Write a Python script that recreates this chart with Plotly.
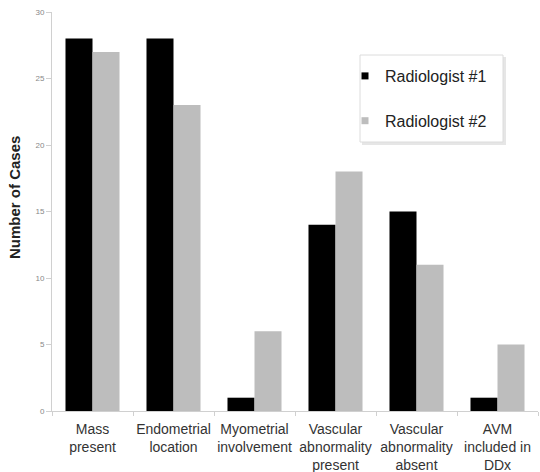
import plotly.graph_objects as go

categories = ["Mass<br>present", "Endometrial<br>location", "Myometrial<br>involvement",
              "Vascular<br>abnormality<br>present", "Vascular<br>abnormality<br>absent",
              "AVM<br>included in<br>DDx"]
radiologist1 = [28, 28, 1, 14, 15, 1]
radiologist2 = [27, 23, 6, 18, 11, 5]
y_ticks = [0, 5, 10, 15, 20, 25, 30]
series_names = ["Radiologist #1", "Radiologist #2"]
series_colors = ["#000000", "#bdbdbd"]

fig = go.Figure()
for vals, name, col in zip([radiologist1, radiologist2], series_names, series_colors):
    fig.add_trace(go.Bar(x=categories, y=vals, name=name, showlegend=False,
                         marker=dict(color=col, line=dict(width=0))))
# legend entries with small square symbols
for name, col in zip(series_names, series_colors):
    fig.add_trace(go.Scatter(x=[None], y=[None], mode="markers", name=name,
                             legendgroup=name,
                             marker=dict(symbol="square", size=7, color=col)))

L, T = 52, 12
PW, PH = 486, 399
def px_x(x):
    return (x - L) / PW
def px_y(y):
    return (T + PH - y) / PH

# legend box with soft shadow
fig.add_shape(type="rect", xref="paper", yref="paper",
              x0=px_x(362), x1=px_x(506), y0=px_y(145), y1=px_y(57),
              line=dict(width=0), fillcolor="#e6e6e6", layer="below")
fig.add_shape(type="rect", xref="paper", yref="paper",
              x0=px_x(360), x1=px_x(503), y0=px_y(142), y1=px_y(55),
              line=dict(width=1, color="#dcdcdc"), fillcolor="white", layer="below")

fig.add_annotation(text="<b>Number of Cases</b>", xref="paper", yref="paper",
                   x=0, xshift=-38, y=px_y(198), textangle=-90, showarrow=False,
                   xanchor="center", yanchor="middle",
                   font=dict(size=15, color="#222222"))

fig.update_layout(
    width=540, height=472,
    margin=dict(l=L, r=540 - L - PW, t=T, b=472 - T - PH, autoexpand=False),
    paper_bgcolor="white", plot_bgcolor="white",
    barmode="group", bargap=0.333, bargroupgap=0,
    font=dict(family="Liberation Sans, Arial, sans-serif", color="#333333"),
    legend=dict(x=px_x(345), y=px_y(59), xanchor="left", yanchor="top",
                bgcolor="rgba(0,0,0,0)", borderwidth=0,
                traceorder="grouped", tracegroupgap=21,
                font=dict(size=16, color="#222222"), itemwidth=30),
    showlegend=True,
)
fig.update_yaxes(range=[0, 30], tickvals=y_ticks, ticks="outside", ticklen=5,
                 tickcolor="#d0d0d0", showline=True, linecolor="#d0d0d0",
                 showgrid=False, zeroline=False, automargin=False,
                 tickfont=dict(size=8, color="#888888"))
fig.update_xaxes(showline=True, linecolor="#d0d0d0", ticks="outside", ticklen=4,
                 tickcolor="#d0d0d0", tickson="boundaries", showgrid=False,
                 automargin=False, tickangle=0, ticklabelstandoff=5,
                 tickfont=dict(size=14, color="#333333"))

fig.write_html("out.html", config={"displayModeBar": False},
               post_script="document.body.style.margin='0';")
